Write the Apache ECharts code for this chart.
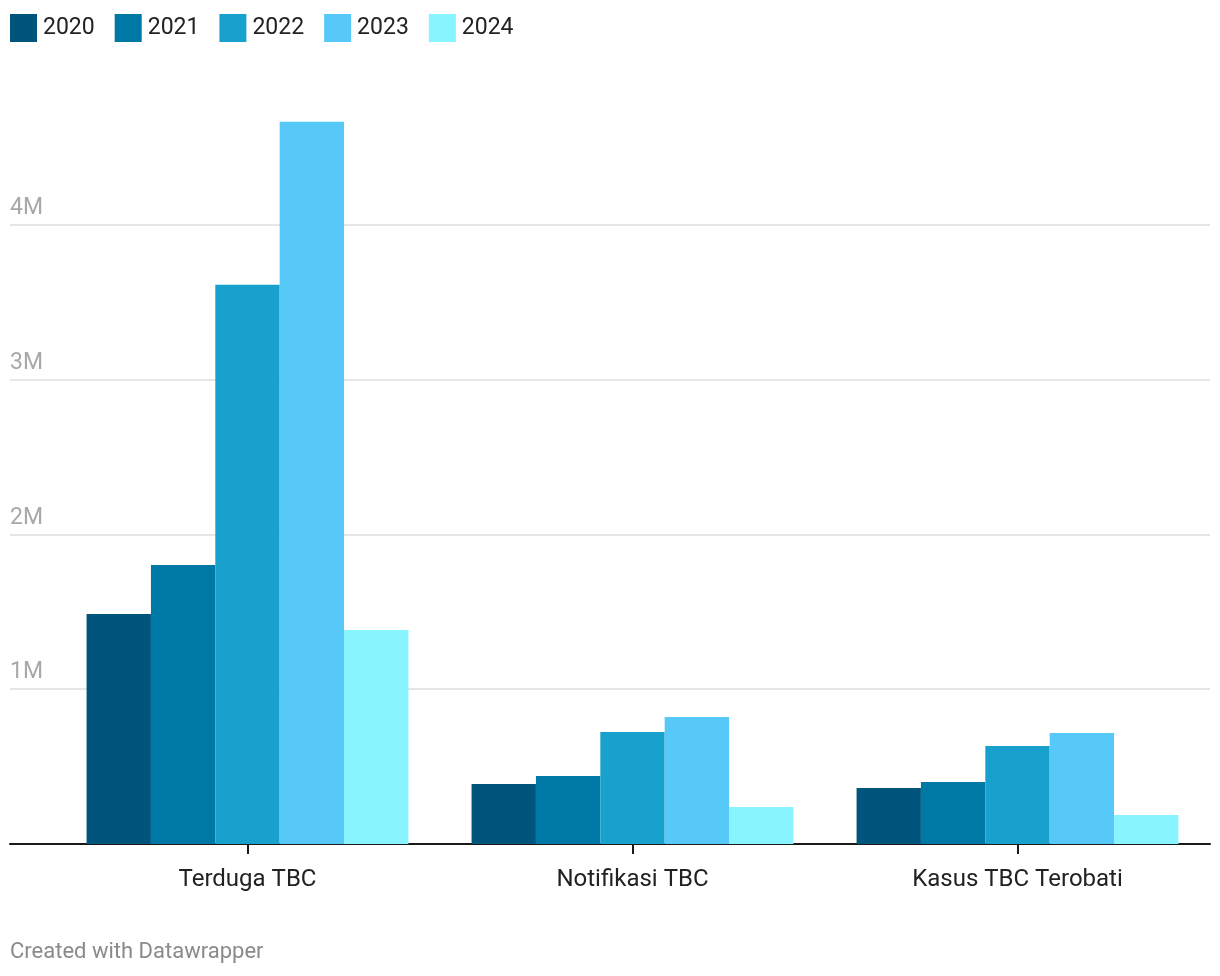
<!DOCTYPE html>
<html>
<head>
<meta charset="utf-8">
<script src="https://cdn.jsdelivr.net/npm/echarts@6/dist/echarts.min.js"></script>
<style>
html,body{margin:0;padding:0;background:#fff;}
#chart{width:1220px;height:976px;}
</style>
</head>
<body>
<div id="chart"></div>
<script>
const categories = ['Terduga TBC', 'Notifikasi TBC', 'Kasus TBC Terobati'];
const years = ['2020', '2021', '2022', '2023', '2024'];
const v2020 = [1486000, 388000, 362000];
const v2021 = [1803000, 439000, 401000];
const v2022 = [3612000, 724000, 633000];
const v2023 = [4666000, 821000, 717000];
const v2024 = [1383000, 239000, 187000];
const yTickLabels = {1000000: '1M', 2000000: '2M', 3000000: '3M', 4000000: '4M'};
const colors = ['#01557c', '#0078a5', '#19a1ce', '#56c9f8', '#88f4ff'];
const seriesValues = [v2020, v2021, v2022, v2023, v2024];

const FONT = 'Roboto, "Noto Sans", sans-serif';
const chart = echarts.init(document.getElementById('chart'), null, {renderer: 'canvas'});
const option = {
  animation: false,
  color: colors,
  textStyle: {fontFamily: FONT},
  legend: {
    left: 10, top: 14, padding: 0,
    icon: 'rect',
    itemWidth: 27, itemHeight: 28, itemGap: 20,
    textStyle: {fontSize: 23, color: '#222', fontFamily: FONT, padding: [0, 0, 0, 1]},
    data: years
  },
  grid: [
    {left: 10, right: 10, top: 70, bottom: 132},
    {left: 55, right: 10, top: 70, bottom: 132}
  ],
  xAxis: [
    {gridIndex: 0, type: 'value', min: 0, max: 1,
     axisLine: {show: true, lineStyle: {color: '#1a1a1a', width: 2}},
     axisTick: {show: false}, axisLabel: {show: false}, splitLine: {show: false}},
    {gridIndex: 1, type: 'category', data: categories,
     axisLine: {show: false},
     axisTick: {show: true, alignWithLabel: true, length: 10, lineStyle: {color: '#1a1a1a', width: 2}},
     axisLabel: {fontSize: 24, color: '#222', margin: 24, fontFamily: FONT},
     splitLine: {show: false}}
  ],
  yAxis: [
    {gridIndex: 0, type: 'value', min: 0, max: 5000000, interval: 1000000,
     axisLine: {show: false}, axisTick: {show: false},
     axisLabel: {inside: true, margin: 0, align: 'left', verticalAlign: 'bottom',
       padding: [0, 0, 5, 0], fontSize: 23, color: '#a8a8a8', fontFamily: FONT,
       formatter: v => yTickLabels[v] || ''},
     splitLine: {show: true, lineStyle: {width: 2,
       color: ['#e6e6e6', '#e6e6e6', '#e6e6e6', '#e6e6e6', '#e6e6e6', 'rgba(0,0,0,0)']}}},
    {gridIndex: 1, type: 'value', min: 0, max: 5000000, interval: 1000000,
     axisLine: {show: false}, axisTick: {show: false}, axisLabel: {show: false},
     splitLine: {show: false}}
  ],
  series: years.map((y, i) => ({
    name: y, type: 'bar', xAxisIndex: 1, yAxisIndex: 1,
    data: seriesValues[i],
    barGap: '0%', barCategoryGap: '16.4%',
    itemStyle: {color: colors[i]}
  })),
  graphic: [{
    type: 'text', left: 10, top: 941,
    style: {text: 'Created with Datawrapper', fontSize: 22, fill: '#8a8a8a', fontFamily: FONT}
  }]
};
chart.setOption(option);
</script>
</body>
</html>
